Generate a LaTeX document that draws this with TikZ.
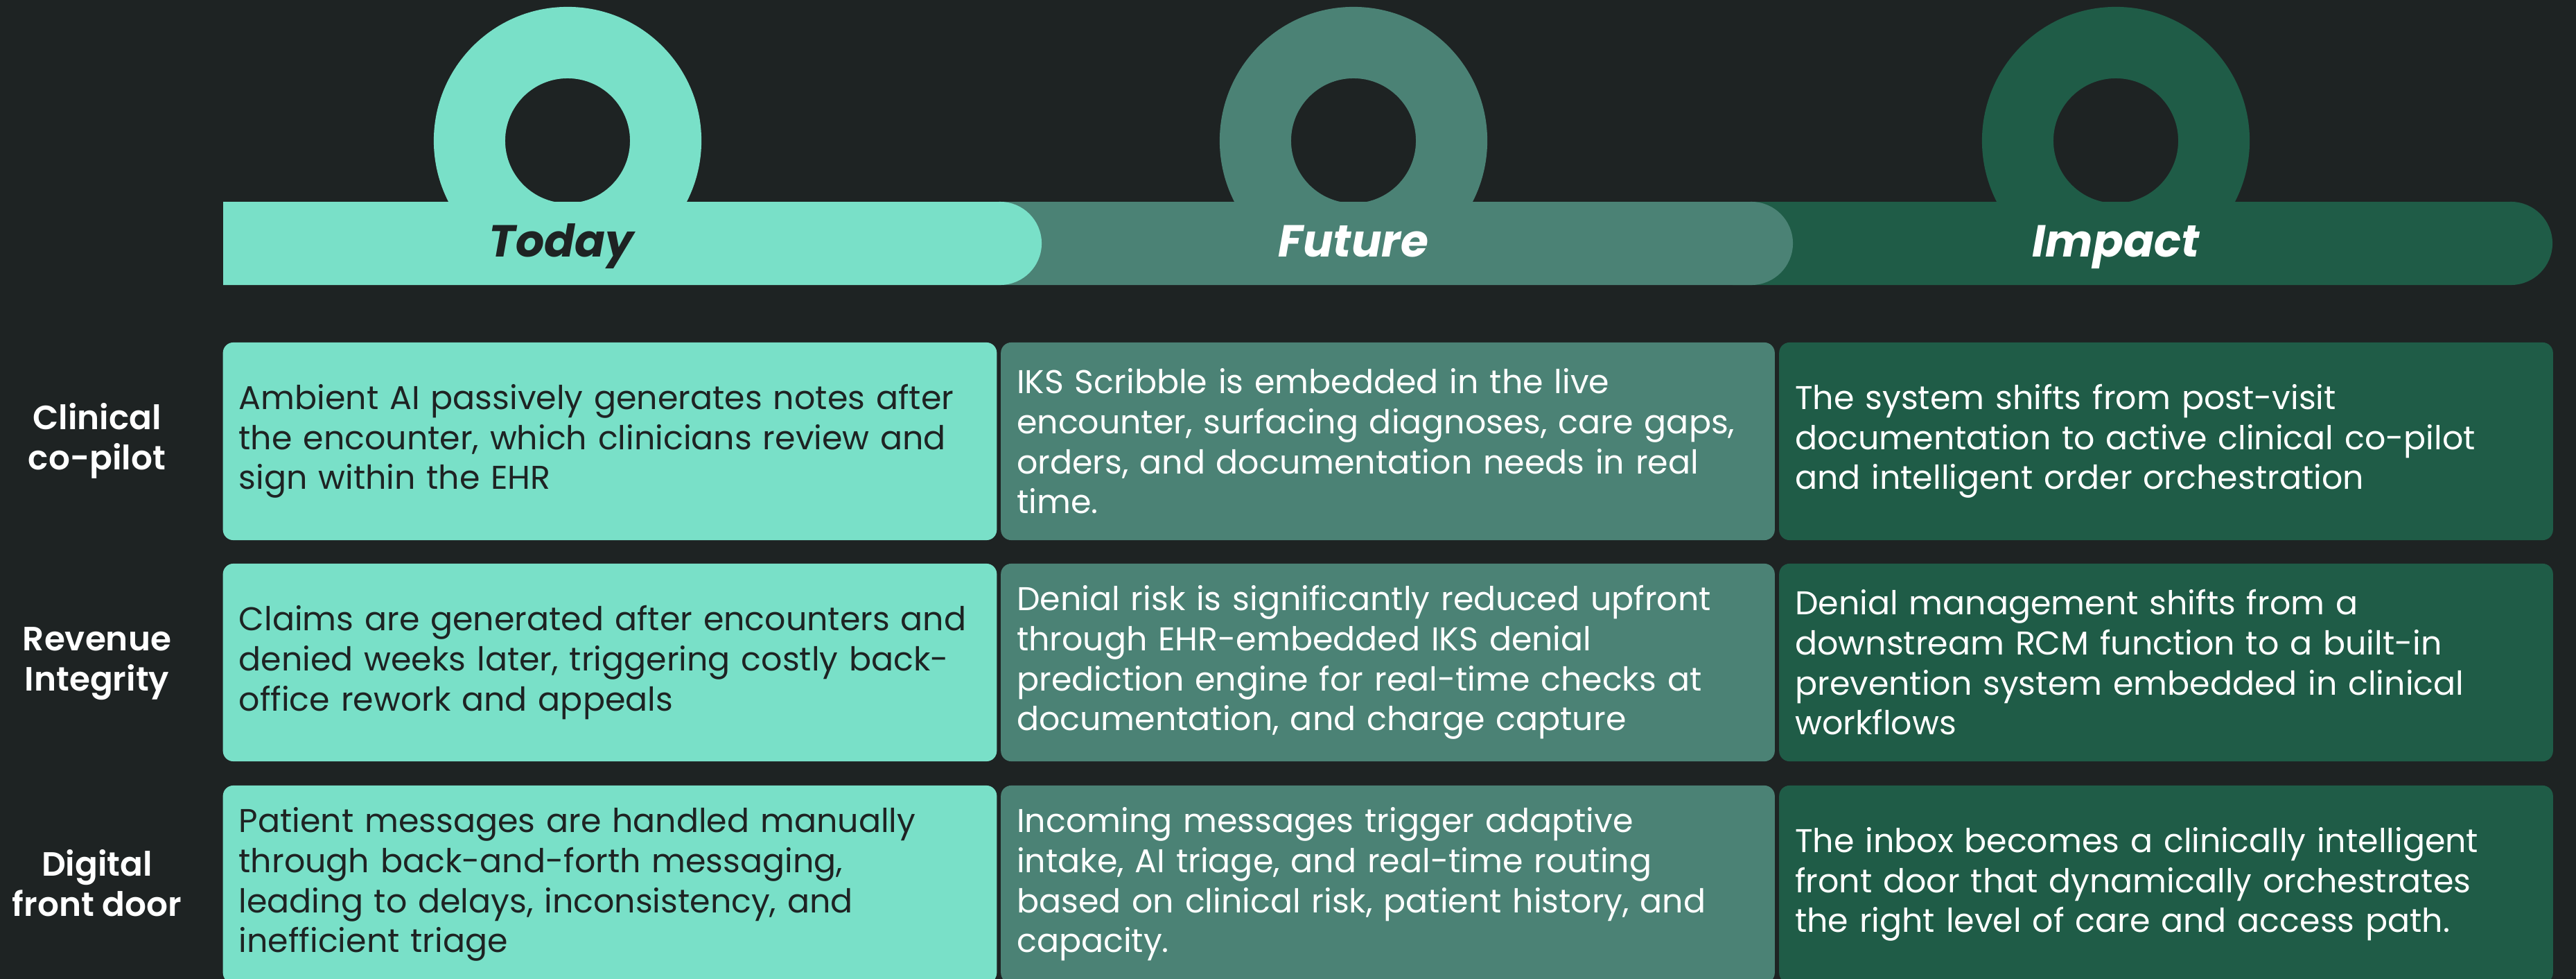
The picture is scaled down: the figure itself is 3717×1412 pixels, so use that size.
\documentclass[tikz,border=0pt]{standalone}
\usepackage{fontspec}
\setmainfont{Poppins}
\newfontfamily\labelfont{Poppins SemiBold}
\usepackage{tikz}
\usetikzlibrary{positioning}

\begin{document}
\begin{tikzpicture}[x=0.01cm, y=-0.01cm,
            cell/.style={minimum width=11.16cm, minimum height=2.85cm, rounded corners=0.15cm, inner xsep=0.23cm, text width=10.7cm, align=left, font=\fontsize{13.5}{16.4}\selectfont},
            todaycell/.style={cell, fill=todaycol, text=textdark},
            futurecell/.style={cell, fill=futurecol, text=white},
            impactcell/.style={cell, fill=impactcol, text=white},
            rowlabel/.style={align=center, text=white, font=\labelfont\fontsize{13.8}{16.5}\selectfont},
            header/.style={anchor=base, font=\bfseries\itshape\fontsize{18.4}{22}\selectfont}]
            \definecolor{bgcol}{HTML}{1E2323};
            \definecolor{textdark}{HTML}{1E2323};
            \definecolor{todaycol}{HTML}{79E0C8};
            \definecolor{futurecol}{HTML}{4B8275};
            \definecolor{impactcol}{HTML}{1F5C47};

            \useasboundingbox (0,0) rectangle (3717,1412);
            \fill[bgcol] (0,0) rectangle (3717,1412);

            % rings above the header bar
            \fill[todaycol, even odd rule] (819,203) circle (1.93cm) circle (0.9cm);
            \fill[futurecol, even odd rule] (1953,203) circle (1.93cm) circle (0.9cm);
            \fill[impactcol, even odd rule] (3053,203) circle (1.93cm) circle (0.9cm);

            % header bar, drawn back to front
            \fill[impactcol] (2500,291) rectangle (3623,411) (3623,351) circle (0.6cm);
            \fill[futurecol] (1400,291) rectangle (2527,411) (2527,351) circle (0.6cm);
            \fill[todaycol] (322,291) rectangle (1443,411) (1443,351) circle (0.6cm);

            \node[header, text=textdark] (hToday) at (810,370) {Today};
            \node[header, text=white] (hFuture) at (1953,370) {Future};
            \node[header, text=white] (hImpact) at (3053,370) {Impact};

            % row labels
            \node[rowlabel] (lClinical) at (140,636) {Clinical\\co-pilot};
            \node[rowlabel] (lRevenue) at (140,957) {Revenue\\Integrity};
            \node[rowlabel] (lDigital) at (140,1274) {Digital\\front door};

            % today
            \node[todaycell] (today1) at (880,636.5) {Ambient AI passively generates notes after\\the encounter, which clinicians review and\\sign within the EHR};
            \node[todaycell] (today2) at (880,955.5) {Claims are generated after encounters and\\denied weeks later, triggering costly back-\\office rework and appeals};
            \node[todaycell] (today3) at (880,1275.5) {Patient messages are handled manually\\through back-and-forth messaging,\\leading to delays, inconsistency, and\\inefficient triage};

            % future
            \node[futurecell] (future1) at (2002.5,636.5) {IKS Scribble is embedded in the live\\encounter, surfacing diagnoses, care gaps,\\orders, and documentation needs in real\\time.};
            \node[futurecell] (future2) at (2002.5,955.5) {Denial risk is significantly reduced upfront\\through EHR-embedded IKS denial\\prediction engine for real-time checks at\\documentation, and charge capture};
            \node[futurecell] (future3) at (2002.5,1275.5) {Incoming messages trigger adaptive\\intake, AI triage, and real-time routing\\based on clinical risk, patient history, and\\capacity.};

            % impact
            \node[impactcell] (impact1) at (3125.5,636.5) {The system shifts from post-visit\\documentation to active clinical co-pilot\\and intelligent order orchestration};
            \node[impactcell] (impact2) at (3125.5,955.5) {Denial management shifts from a\\downstream RCM function to a built-in\\prevention system embedded in clinical\\workflows};
            \node[impactcell] (impact3) at (3125.5,1275.5) {The inbox becomes a clinically intelligent\\front door that dynamically orchestrates\\the right level of care and access path.};
\end{tikzpicture}
\end{document}
